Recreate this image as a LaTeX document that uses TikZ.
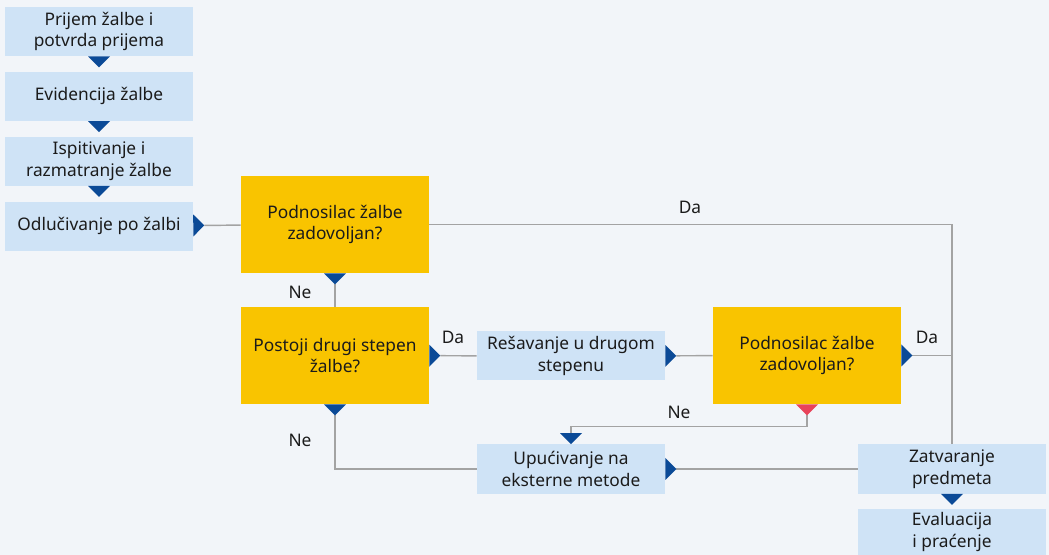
\documentclass[tikz,border=0pt]{standalone}
\usepackage{fontspec}
\setmainfont{Noto Sans}
\usetikzlibrary{arrows.meta, positioning}

\definecolor{bgc}{HTML}{F2F5F9}
\definecolor{boxblue}{HTML}{CFE3F6}
\definecolor{boxyellow}{HTML}{F9C400}
\definecolor{tipblue}{HTML}{0B4A97}
\definecolor{tipred}{HTML}{E8435A}
\definecolor{linegray}{HTML}{A3A3A3}
\definecolor{txt}{HTML}{1B1B1B}

\begin{document}
\begin{tikzpicture}[
    x=0.75pt, y=-0.75pt,
    task/.style={fill=boxblue, minimum width=141pt, minimum height=36.75pt,
                 align=center, text=txt, inner sep=2pt,
                 font=\fontsize{13}{16.2}\selectfont},
    question/.style={task, fill=boxyellow, minimum height=72.75pt},
    plain/.style={draw=linegray, line width=1.1pt},
    flow/.style={plain, {Triangle[reversed, length=8.25pt, width=16.5pt,
                 color=tipblue, line width=0pt]}-},
    stack/.style={flow, draw=bgc},
    flowno/.style={plain, {Triangle[reversed, length=8.25pt, width=16.5pt,
                   color=tipred, line width=0pt]}-{Triangle[length=8.25pt,
                   width=16.5pt, color=tipblue, line width=0pt]}},
    lbl/.style={text=txt, font=\fontsize{13}{15}\selectfont}
  ]
  \fill[bgc] (0,0) rectangle (1049,555);
  \useasboundingbox (0,0) rectangle (1049,555);

  % left column
  \node[task] (recv) at (99,31.5) {Prijem žalbe i\\potvrda prijema};
  \node[task, below=11.5pt of recv] (reg) {Evidencija žalbe};
  \node[task, below=11.5pt of reg] (exam) {Ispitivanje i\\razmatranje žalbe};
  \node[task, below=11.5pt of exam] (decide) {Odlučivanje po žalbi};

  % questions and further steps
  \node[question] (sat1) at (335,224.5) {Podnosilac žalbe\\zadovoljan?};
  \node[question] (second) at (335,355.5) {Postoji drugi stepen\\žalbe?};
  \node[task] (resolve) at (571,356) {Rešavanje u drugom\\stepenu};
  \node[question] (sat2) at (807,355.5) {Podnosilac žalbe\\zadovoljan?};
  \node[task] (refer) at (571,469) {Upućivanje na\\eksterne metode};
  \node[task] (close) at (952,469) {Zatvaranje\\predmeta};
  \node[task, minimum height=34.5pt] (eval) at (952,532) {Evaluacija\\i praćenje};

  \draw[stack] (recv) -- (reg);
  \draw[stack] (reg) -- (exam);
  \draw[stack] (exam) -- (decide);
  \draw[flow] (decide) -- (sat1);
  \draw[flow] (sat1) -- (second);
  \draw[plain] (sat1.east) -| (close.north);
  \draw[flow] (second) -- (resolve);
  \draw[flow] (resolve) -- (sat2);
  \draw[flow] (sat2.east) -- (sat2.east -| close.north);
  \draw[flowno] (sat2.south) -- ++(0,22) -| (refer.north);
  \draw[flow] (second.south) |- (refer.west);
  \draw[flow] (refer) -- (close);
  \draw[stack] (close) -- (eval);

  % labels
  \node[lbl] (ne1) at (300,292) {Ne};
  \node[lbl] (da1) at (690,207) {Da};
  \node[lbl] (da2) at (453,337) {Da};
  \node[lbl] (da3) at (927,337) {Da};
  \node[lbl] (ne2) at (679,412) {Ne};
  \node[lbl] (ne3) at (300,440) {Ne};
\end{tikzpicture}
\end{document}
